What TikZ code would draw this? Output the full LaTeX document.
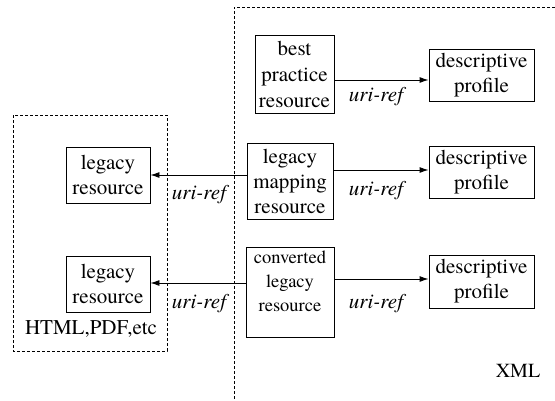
\documentclass[tikz,border=0pt]{standalone}
\usepackage{fontspec}
\setmainfont{TeX Gyre Termes}
\usetikzlibrary{arrows.meta}
\begin{document}
\begin{tikzpicture}[x=1pt,y=-1pt,
  box/.style={draw,line width=0.9pt,inner sep=0pt,align=center,font=\fontsize{21}{25}\selectfont},
  lbl/.style={font=\fontsize{21}{25}\selectfont\itshape,inner sep=0pt},
  txt/.style={font=\fontsize{21}{25}\selectfont,inner sep=0pt},
  arr/.style={line width=0.9pt,-{Latex[length=9pt,width=6pt]}},
  dsh/.style={line width=0.9pt,dash pattern=on 3pt off 2pt}]
\useasboundingbox (0,0) rectangle (555,400);
% dashed regions
\draw[dsh] (13,115) rectangle (167,351);
\draw[dsh] (555,7) -- (234,7) -- (234,400);
% nodes
\node[box,minimum width=84pt,minimum height=56pt] (leg1) at (108,175) {legacy\\resource};
\node[box,minimum width=84pt,minimum height=56pt] (leg2) at (108,284) {legacy\\resource};
\node[box,minimum width=79pt,minimum height=78pt,font=\fontsize{21}{26}\selectfont] (best) at (294.5,74) {best\\practice\\resource};
\node[box,minimum width=86pt,minimum height=76pt] (map) at (290,181) {legacy\\mapping\\resource};
\node[box,minimum width=88pt,minimum height=90pt] (conv) at (290,292) {};
\node[txt,align=center,font=\fontsize{18.5}{24}\selectfont] (convtxt) at (290,281) {converted\\legacy\\resource};
\node[box,minimum width=105pt,minimum height=52pt] (d1) at (481.5,75) {descriptive\\profile};
\node[box,minimum width=105pt,minimum height=52pt] (d2) at (481.5,172) {descriptive\\profile};
\node[box,minimum width=105pt,minimum height=53pt] (d3) at (481.5,281.5) {descriptive\\profile};
% texts
\node[txt] (html) at (91,329) {HTML,PDF,etc};
\node[txt,font=\fontsize{20}{24}\selectfont] (xml) at (518,371) {XML};
\node[lbl] (u1) at (376,97) {uri-ref};
\node[lbl] (u2) at (376,191) {uri-ref};
\node[lbl] (u3) at (376,304) {uri-ref};
\node[lbl] (u4) at (199,195) {uri-ref};
\node[lbl] (u5) at (199,304) {uri-ref};
% arrows
\draw[arr] ([yshift=-6pt]best.east) -- (d1.west |- 0,80);
\draw[arr] ([yshift=11pt]map.east) -- (d2.west |- 0,170);
\draw[arr] ([yshift=13pt]conv.east) -- (d3.west |- 0,279);
\draw[arr] ([yshift=6pt]map.west) -- (leg1.east);
\draw[arr] ([yshift=9pt]conv.west) -- (leg2.east |- 0,283);
\end{tikzpicture}
\end{document}
